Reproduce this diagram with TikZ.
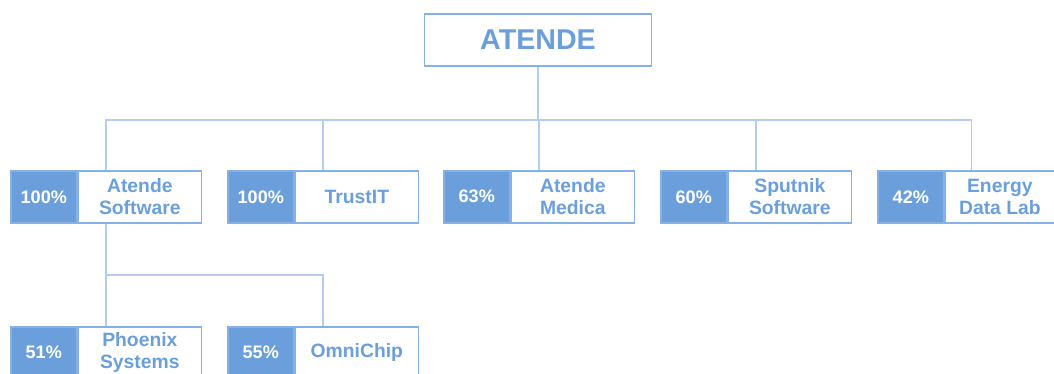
\documentclass[tikz,border=0pt]{standalone}
\usepackage{fontspec}
\setmainfont{Liberation Sans}
\usepackage{tikz}
\usetikzlibrary{calc, positioning}
\definecolor{boxblue}{HTML}{6A9FDC}
\definecolor{edgeblue}{HTML}{86B1E6}
\definecolor{lineblue}{HTML}{B2CDEE}

\tikzset{
    topbox/.style={draw=edgeblue, line width=0.9pt, text=boxblue, minimum width=4.54cm, minimum height=1.04cm, inner sep=0pt, font=\bfseries\fontsize{16.3}{18}\selectfont},
    pct/.style={draw=edgeblue, fill=boxblue, line width=0.9pt, text=white, anchor=north west, minimum width=1.32cm, minimum height=1.04cm, inner sep=0pt, font=\bfseries\fontsize{10.3}{12}\selectfont},
    firm/.style={draw=edgeblue, line width=0.9pt, text=boxblue, minimum width=2.46cm, minimum height=1.04cm, inner sep=0pt, align=center, font=\bfseries\fontsize{11}{12.5}\selectfont},
    link/.style={draw=lineblue, line width=0.85pt}
}

\begin{document}
\begin{tikzpicture}[x=0.02cm, y=-0.02cm]
    \useasboundingbox (0,0) rectangle (1054,374);
    \node[topbox](atende) at (538,40) {ATENDE};
    \node[pct](P_sw) at (10,170) {100\%};
    \node[firm, right=0pt of P_sw](F_sw) {Atende\\Software};
    \node[pct](P_tit) at (227,170) {100\%};
    \node[firm, right=0pt of P_tit](F_tit) {TrustIT};
    \node[pct](P_med) at (443,170) {63\%};
    \node[firm, right=0pt of P_med](F_med) {Atende\\Medica};
    \node[pct](P_sput) at (660,170) {60\%};
    \node[firm, right=0pt of P_sput](F_sput) {Sputnik\\Software};
    \node[pct](P_edl) at (877,170) {42\%};
    \node[firm, right=0pt of P_edl, minimum width=2.18cm](F_edl) {Energy\\Data Lab};
    \node[pct](P_px) at (10,326) {51\%};
    \node[firm, right=0pt of P_px](F_px) {Phoenix\\Systems};
    \node[pct](P_oc) at (227,326) {55\%};
    \node[firm, right=0pt of P_oc](F_oc) {OmniChip};
    % tops and bottoms of the pairs
    \coordinate (t_sw) at ($(P_sw.north west)!0.5!(F_sw.north east)$);
    \coordinate (b_sw) at ($(P_sw.south west)!0.5!(F_sw.south east)$);
    \coordinate (t_tit) at ($(P_tit.north west)!0.5!(F_tit.north east)$);
    \coordinate (t_med) at ($(P_med.north west)!0.5!(F_med.north east)$);
    \coordinate (t_sput) at ($(P_sput.north west)!0.5!(F_sput.north east)$);
    \coordinate (t_edl) at ($(P_edl.north west)+(94.5,0)$);
    \coordinate (t_px) at ($(P_px.north west)!0.5!(F_px.north east)$);
    \coordinate (t_oc) at ($(P_oc.north west)!0.5!(F_oc.north east)$);
    \coordinate (bus) at (538,120);
    \draw[link] (atende.south) -- (bus);
    \draw[link] (bus) -| (t_sw);
    \draw[link] (bus) -| (t_tit);
    \draw[link] (bus) -| (t_med);
    \draw[link] (bus) -| (t_sput);
    \draw[link] (bus) -| (t_edl);
    \draw[link] (b_sw) -- (t_px);
    \draw[link] ($(b_sw)!0.5!(t_px)$) -| (t_oc);
\end{tikzpicture}
\end{document}
